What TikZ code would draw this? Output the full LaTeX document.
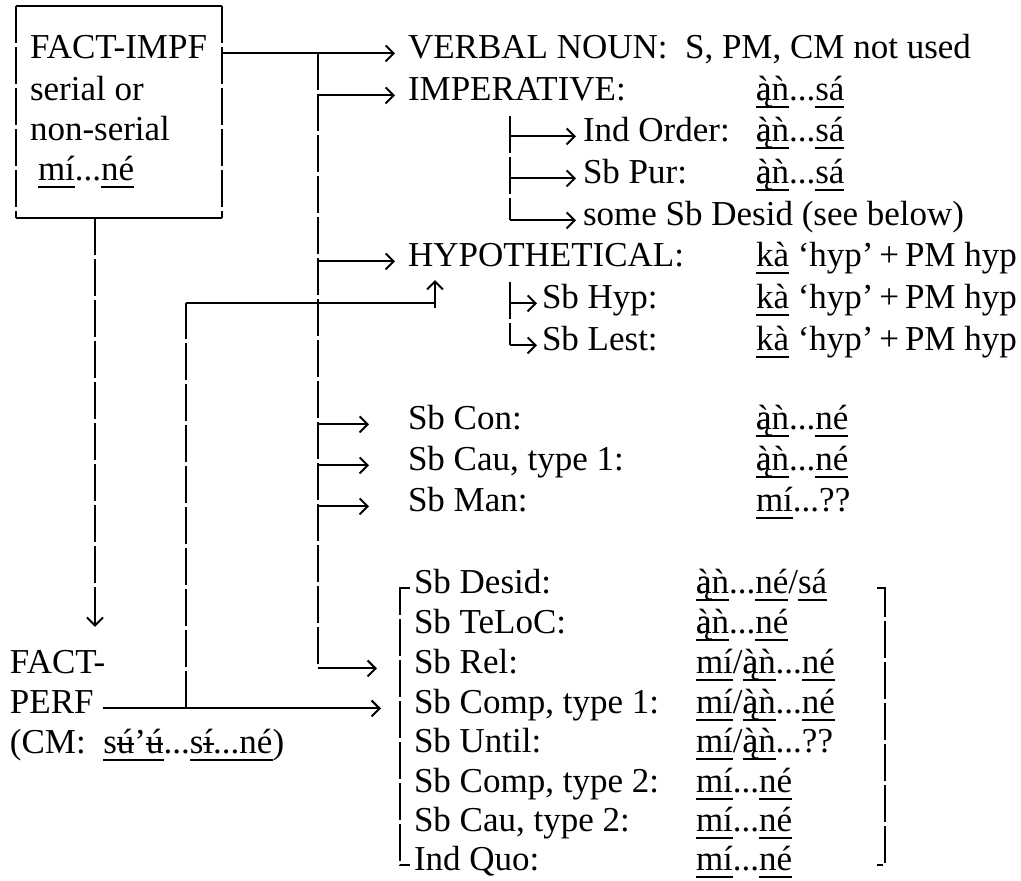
\documentclass[tikz,border=0pt]{standalone}
\usepackage{fontspec}
\setmainfont{Liberation Serif}
\usetikzlibrary{arrows.meta}

\newsavebox{\ulmbox}
\newcommand{\ulm}[1]{\sbox{\ulmbox}{#1}\rlap{\rule[-4pt]{\wd\ulmbox}{0.8pt}}\usebox{\ulmbox}}
\newcommand{\aog}{\ooalign{ą\cr à\cr}}
\newcommand{\ubar}{\ooalign{ú\cr\hidewidth\rule[0.22em]{0.48em}{0.055em}\hidewidth\cr}}
\newcommand{\ibar}{\ooalign{í\cr\hidewidth\rule[0.22em]{0.3em}{0.055em}\hidewidth\cr}}
\newcommand{\mAn}{\ulm{\aog ǹ}}
\newcommand{\mSa}{\ulm{sá}}
\newcommand{\mNe}{\ulm{né}}
\newcommand{\mMi}{\ulm{mí}}
\newcommand{\mKa}{\ulm{kà}}
\newcommand{\hypm}{\mKa{} ‘hyp’\,+\,PM hyp}

\begin{document}
\begin{tikzpicture}[x=0.5pt, y=-0.5pt, line width=1pt, >={Straight Barb[length=4pt,width=8pt]},
    txt/.style={anchor=base west, inner sep=0pt, font=\fontsize{17.5}{20}\selectfont},
    dashv/.style={dash pattern=on 18.5pt off 2pt}]
    \useasboundingbox (0,0) rectangle (1021,880);

    % FACT-IMPF box
    \node[minimum width=102pt, minimum height=105pt, inner sep=0pt] (impf) at (119,112) {};
    \draw (impf.north west) -- (impf.north east);
    \draw (impf.south west) -- (impf.south east);
    \draw[dashv] (impf.north west) -- (impf.south west);
    \draw[dashv] (impf.north east) -- (impf.south east);
    \node[txt] (impfa) at (29,58) {FACT-IMPF};
    \node[txt] (impfb) at (29,100) {serial or};
    \node[txt] (impfc) at (29,140) {non-serial};
    \node[txt] (impfd) at (37,180) {\mMi...\mNe};

    % FACT-PERF
    \node[txt] (facta) at (9,673) {FACT-};
    \node[txt] (perf) at (9,713) {PERF};
    \node[txt] (perfcm) at (9,753) {(CM:\ \ \ulm{s\ubar’\ubar}...\ulm{s\ibar...né})};

    % right column
    \node[txt] (vn) at (407,58) {VERBAL NOUN:\ \ S, PM, CM not used};
    \node[txt] (imp) at (407,100) {IMPERATIVE:};
    \node[txt] (impm) at (755,100) {\mAn...\mSa};
    \node[txt] (order) at (582,141) {Ind Order:};
    \node[txt] (orderm) at (755,141) {\mAn...\mSa};
    \node[txt] (pur) at (582,183) {Sb Pur:};
    \node[txt] (purm) at (755,183) {\mAn...\mSa};
    \node[txt] (sdesid) at (582,225) {some Sb Desid (see below)};
    \node[txt] (hyp) at (407,266) {HYPOTHETICAL:};
    \node[txt] (hypm) at (755,266) {\hypm};
    \node[txt] (sbhyp) at (541,308) {Sb Hyp:};
    \node[txt] (sbhypm) at (755,308) {\hypm};
    \node[txt] (lest) at (541,350) {Sb Lest:};
    \node[txt] (lestm) at (755,350) {\hypm};
    \node[txt] (con) at (407,429) {Sb Con:};
    \node[txt] (conm) at (755,429) {\mAn...\mNe};
    \node[txt] (cau) at (407,470) {Sb Cau, type 1:};
    \node[txt] (caum) at (755,470) {\mAn...\mNe};
    \node[txt] (man) at (407,511) {Sb Man:};
    \node[txt] (manm) at (755,511) {\mMi...??};

    % bracketed group
    \node[txt] (desid) at (413,593) {Sb Desid:};
    \node[txt] (desidm) at (695,593) {\mAn...\mNe/\mSa};
    \node[txt] (teloc) at (413,633) {Sb TeLoC:};
    \node[txt] (telocm) at (695,633) {\mAn...\mNe};
    \node[txt] (rel) at (413,673) {Sb Rel:};
    \node[txt] (relm) at (695,673) {\mMi/\mAn...\mNe};
    \node[txt] (comp) at (413,713) {Sb Comp, type 1:};
    \node[txt] (compm) at (695,713) {\mMi/\mAn...\mNe};
    \node[txt] (until) at (413,752) {Sb Until:};
    \node[txt] (untilm) at (695,752) {\mMi/\mAn...??};
    \node[txt] (compb) at (413,792) {Sb Comp, type 2:};
    \node[txt] (compbm) at (695,792) {\mMi...\mNe};
    \node[txt] (caub) at (413,831) {Sb Cau, type 2:};
    \node[txt] (caubm) at (695,831) {\mMi...\mNe};
    \node[txt] (quo) at (413,870) {Ind Quo:};
    \node[txt] (quom) at (695,870) {\mMi...\mNe};

    \coordinate (trunk) at (318,0);
    \coordinate (imptrunk) at (510,0);
    \coordinate (downx) at (95,0);
    \coordinate (perfx) at (186,0);
    \coordinate (upx) at (435,0);
    \coordinate (brl) at (400,0);
    \coordinate (brr) at (885,0);

    % connectors
    \draw[->] (impf.east |- vn.mid west) -- ([xshift=-6pt]vn.mid west);
    \draw[dashv] (trunk |- vn.mid west) -- (trunk |- rel.mid west);
    \foreach \n in {imp,hyp}
        \draw[->] (trunk |- \n.mid west) -- ([xshift=-6pt]\n.mid west);
    \foreach \n in {con,cau,man}
        \draw[->] (trunk |- \n.mid west) -- ([xshift=-19pt]\n.mid west);
    \draw[->] (trunk |- rel.mid west) -- ([xshift=-18pt]rel.mid west);

    \draw[dashv] ([yshift=-8pt]imptrunk |- imp.base) -- (imptrunk |- sdesid.mid west);
    \foreach \n in {order,pur,sdesid}
        \draw[->] (imptrunk |- \n.mid west) -- ([xshift=-3pt]\n.mid west);
    \draw[dashv] ([yshift=-8pt]imptrunk |- hyp.base) -- (imptrunk |- lest.mid west);
    \foreach \n in {sbhyp,lest}
        \draw[->] (imptrunk |- \n.mid west) -- ([xshift=-2pt]\n.mid west);

    \draw[dashv, ->] (impf.south -| downx) -- ([yshift=11pt]downx |- facta.north);
    \draw[->] ([xshift=4pt]perf.mid east) -- ([xshift=-16pt]comp.mid west);
    \draw[dashv] (perfx |- comp.mid west) -- (perfx |- sbhyp.mid west);
    \draw (perfx |- sbhyp.mid west) -- (upx |- sbhyp.mid west);
    \draw[->] (upx |- sbhyp.base) -- ([yshift=14pt]upx |- sbhyp.base);

    % bracket
    \draw[dashv] ([xshift=5pt]brl |- desid.mid west) -- (brl |- desid.mid west)
        -- (brl |- quo.mid west) -- ([xshift=5pt]brl |- quo.mid west);
    \draw[dashv] ([xshift=-4pt]brr |- desid.mid west) -- (brr |- desid.mid west)
        -- (brr |- quo.mid west) -- ([xshift=-4pt]brr |- quo.mid west);
\end{tikzpicture}
\end{document}
